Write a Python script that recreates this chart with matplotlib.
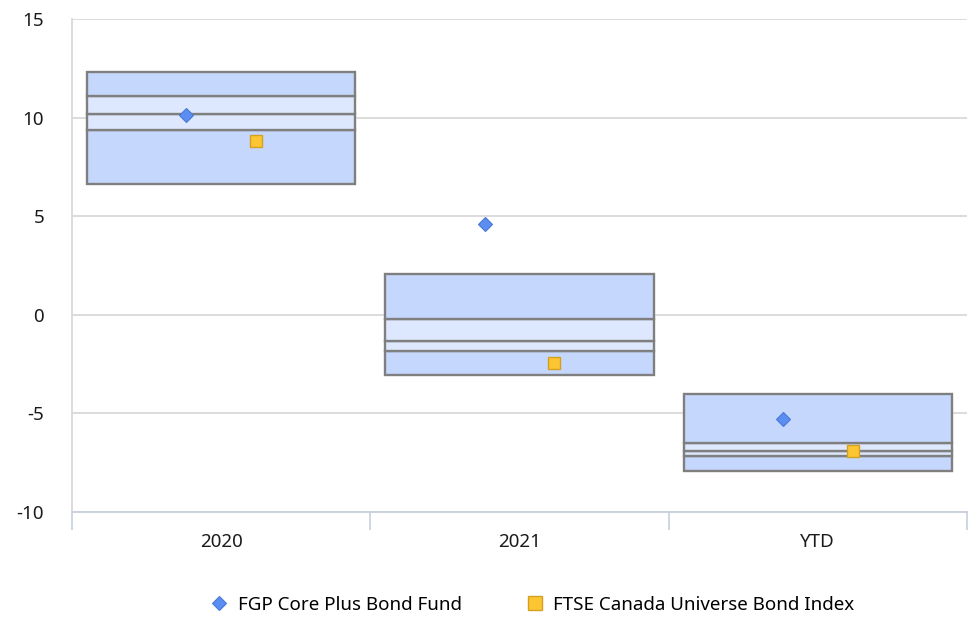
import matplotlib
matplotlib.use("Agg")
import matplotlib.pyplot as plt
from matplotlib.lines import Line2D
import numpy as np

# Peer-group quartile ranges per period (5th, 25th, 50th, 75th, 95th percentile)
categories = ["2020", "2021", "YTD"]
p05 = [6.63, -3.03, -7.91]
p25 = [9.38, -1.83, -7.18]
p50 = [10.18, -1.33, -6.91]
p75 = [11.12, -0.19, -6.51]
p95 = [12.31, 2.06, -4.02]

fund_values = [10.14, 4.61, -5.29]
index_values = [8.79, -2.45, -6.90]

fund_name = "FGP Core Plus Bond Fund"
index_name = "FTSE Canada Universe Bond Index"
y_ticks = [-10, -5, 0, 5, 10, 15]

plt.rcParams["font.family"] = ["Noto Sans", "DejaVu Sans"]

fig = plt.figure(figsize=(9.73, 6.17), dpi=100)
ax = fig.add_axes([0.074, 0.1702, 0.9198, 0.799])

dark_fill = "#c5d7fc"
light_fill = "#dde7fd"
edge = "#7f7f7f"
x = np.arange(len(categories))
width = 0.9

lo = np.array(p05)
q1 = np.array(p25)
md = np.array(p50)
q3 = np.array(p75)
hi = np.array(p95)

# stacked quartile segments
ax.bar(x, q1 - lo, bottom=lo, width=width, color=dark_fill, edgecolor=edge, linewidth=1.7, zorder=2)
ax.bar(x, md - q1, bottom=q1, width=width, color=light_fill, edgecolor=edge, linewidth=1.7, zorder=2)
ax.bar(x, q3 - md, bottom=md, width=width, color=light_fill, edgecolor=edge, linewidth=1.7, zorder=2)
ax.bar(x, hi - q3, bottom=q3, width=width, color=dark_fill, edgecolor=edge, linewidth=1.7, zorder=2)

offset = 0.117
ax.plot(x - offset, fund_values, linestyle="none", marker="D", markersize=7,
        markerfacecolor="#5b8ef0", markeredgecolor="#4a78d8", markeredgewidth=0.8, zorder=4)
ax.plot(x + offset, index_values, linestyle="none", marker="s", markersize=8,
        markerfacecolor="#fcc632", markeredgecolor="#d4a020", markeredgewidth=1.0, zorder=4)

ax.set_xlim(-0.5, 2.5)
ax.set_ylim(-10, 15)
ax.set_yticks(y_ticks)
ax.set_yticklabels([str(v) for v in y_ticks])
ax.yaxis.grid(True, color="#d9d9d9", linewidth=1.3, zorder=0)
ax.set_axisbelow(True)

# category boundaries as major ticks, labels at the centres
ax.set_xticks([-0.5, 0.5, 1.5, 2.5])
ax.set_xticklabels([])
ax.set_xticks(x, minor=True)
ax.set_xticklabels(categories, minor=True)
ax.tick_params(axis="x", which="major", length=13, width=1.2, color="#c8d0dc", direction="out")
ax.tick_params(axis="x", which="minor", length=0, pad=15, labelsize=13.5, labelcolor="#1a1a1a")
ax.tick_params(axis="y", length=0, pad=20, labelsize=13.5, labelcolor="#1a1a1a")

for side in ("top", "right"):
    ax.spines[side].set_visible(False)
ax.spines["left"].set_color("#d9d9d9")
ax.spines["left"].set_linewidth(1.3)
ax.spines["bottom"].set_color("#c8d0dc")
ax.spines["bottom"].set_linewidth(1.3)

handles = [
    Line2D([], [], linestyle="none", marker="D", markersize=7,
           markerfacecolor="#5b8ef0", markeredgecolor="#4a78d8", markeredgewidth=0.8),
    Line2D([], [], linestyle="none", marker="s", markersize=10,
           markerfacecolor="#fcc632", markeredgecolor="#d4a020", markeredgewidth=1.0),
]
fig.legend(handles, [fund_name, index_name], loc="center", ncol=2,
           bbox_to_anchor=(532 / 973, 0.020), frameon=False, fontsize=13.5,
           handlelength=1.0, handletextpad=0.5, columnspacing=3.4)

fig.savefig("out.png", dpi=100)
